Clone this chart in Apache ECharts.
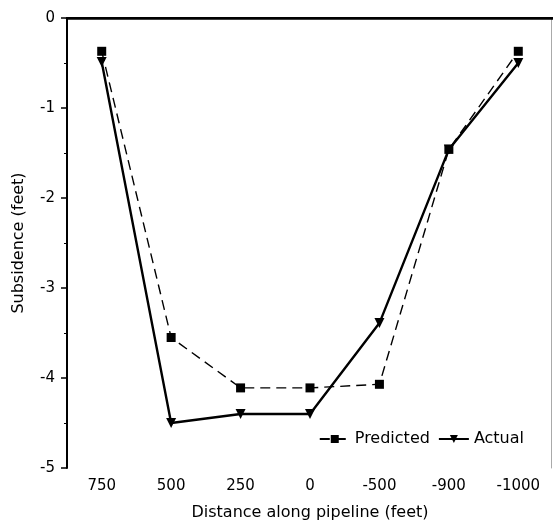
<!DOCTYPE html>
<html>
<head>
<meta charset="utf-8">
<script src="https://cdn.jsdelivr.net/npm/echarts@6/dist/echarts.min.js"></script>
<style>
  html, body { margin: 0; padding: 0; background: #fff; }
  #main { width: 553px; height: 522px; }
</style>
</head>
<body>
<div id="main"></div>
<script>
var distances = ['750', '500', '250', '0', '-500', '-900', '-1000'];
var predicted = [-0.37, -3.55, -4.11, -4.11, -4.07, -1.46, -0.37];
var actual = [-0.49, -4.5, -4.4, -4.4, -3.39, -1.46, -0.5];

var chartDom = document.getElementById('main');
var myChart = echarts.init(chartDom);
var font = 'DejaVu Sans';

var option = {
  animation: false,
  textStyle: { fontFamily: font, color: '#000' },
  grid: { left: 67, right: 0, top: 18, bottom: 54, containLabel: false, outerBoundsMode: 'none' },
  legend: {
    data: ['Predicted', 'Actual'],
    right: 24,
    top: 426,
    itemWidth: 30,
    itemHeight: 10,
    itemGap: 8,
    textStyle: { fontFamily: font, fontSize: 16, color: '#000' }
  },
  xAxis: [
    {
      type: 'category',
      data: distances,
      boundaryGap: true,
      name: 'Distance along pipeline (feet)',
      nameLocation: 'middle',
      nameGap: 37,
      nameTextStyle: { fontFamily: font, fontSize: 16, color: '#000' },
      axisLine: { lineStyle: { color: '#000', width: 2 } },
      axisTick: { alignWithLabel: true, length: 6, lineStyle: { color: '#000', width: 1.5 } },
      axisLabel: { fontFamily: font, fontSize: 15, color: '#000', margin: 11 },
      splitLine: { show: false }
    },
    {
      type: 'category',
      data: distances,
      position: 'top',
      axisLine: { lineStyle: { color: '#000', width: 2.5 } },
      axisTick: { show: false },
      axisLabel: { show: false },
      splitLine: { show: false }
    }
  ],
  yAxis: [
    {
      type: 'value',
      min: -5,
      max: 0,
      interval: 1,
      name: 'Subsidence (feet)',
      nameLocation: 'middle',
      nameGap: 40,
      nameTextStyle: { fontFamily: font, fontSize: 16, color: '#000' },
      axisLine: { show: true, lineStyle: { color: '#000', width: 2 } },
      axisTick: { show: true, length: 6, lineStyle: { color: '#000', width: 1.5 } },
      minorTick: { show: true, splitNumber: 2, length: 3, lineStyle: { color: '#000', width: 1 } },
      axisLabel: { fontFamily: font, fontSize: 15, color: '#000', margin: 12 },
      splitLine: { show: false }
    },
    {
      type: 'value',
      min: -5,
      max: 0,
      position: 'right',
      offset: -2,
      axisLine: { show: true, lineStyle: { color: '#aaa', width: 1 } },
      axisTick: { show: false },
      axisLabel: { show: false },
      splitLine: { show: false }
    }
  ],
  series: [
    {
      name: 'Predicted',
      type: 'line',
      data: predicted,
      symbol: 'rect',
      symbolSize: 9,
      itemStyle: { color: '#000' },
      lineStyle: { color: '#000', width: 1.4, type: [10, 6] }
    },
    {
      name: 'Actual',
      type: 'line',
      data: actual,
      symbol: 'triangle',
      symbolRotate: 180,
      symbolSize: 10,
      itemStyle: { color: '#000' },
      lineStyle: { color: '#000', width: 2.4 }
    }
  ]
};

myChart.setOption(option);
</script>
</body>
</html>
